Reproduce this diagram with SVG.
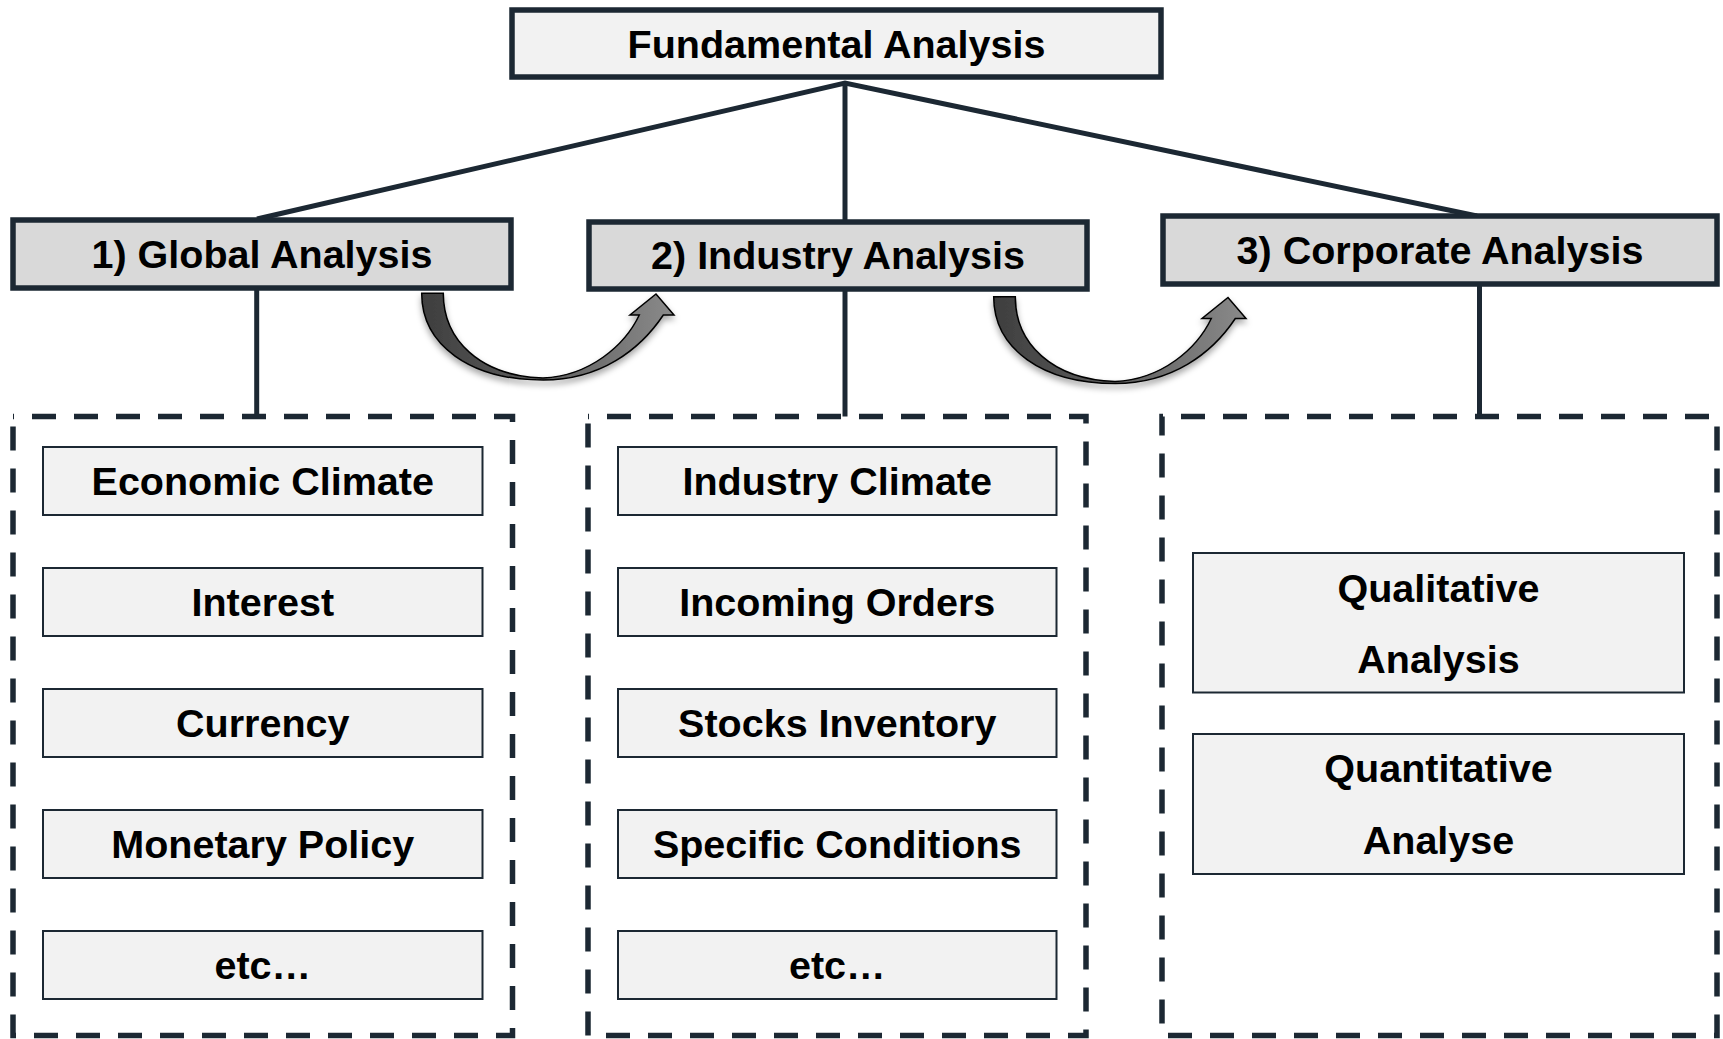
<svg xmlns="http://www.w3.org/2000/svg" width="1723" height="1039" viewBox="0 0 1723 1039">
  <style>
    .txt { font-family: "Liberation Sans", Arial, sans-serif; font-weight: bold; font-size: 39.5px; fill: #000; text-anchor: middle; }
    .head { fill: #f2f2f2; stroke: #1c2833; stroke-width: 5.5; }
    .lvl2 { fill: #d9d9d9; stroke: #1c2833; stroke-width: 5.5; }
    .item { fill: #f2f2f2; stroke: #1c2833; stroke-width: 2; }
    .group { fill: none; stroke: #1c2833; stroke-width: 5.5; stroke-dasharray: 24 18; stroke-dashoffset: 23; }
    .conn { fill: none; stroke: #1c2833; stroke-width: 5; stroke-linejoin: miter; }
    .curve { fill: url(#arrowGrad); stroke: #000; stroke-width: 1.5; stroke-linejoin: miter; filter: url(#shadow); }
  </style>
  <defs>
    <linearGradient id="arrowGrad" x1="0" y1="0" x2="1" y2="0">
      <stop offset="0" stop-color="#3e3e3e"/>
      <stop offset="0.45" stop-color="#5c5c5c"/>
      <stop offset="1" stop-color="#8a8a8a"/>
    </linearGradient>
    <filter id="shadow" x="-20%" y="-20%" width="140%" height="160%">
      <feDropShadow dx="0" dy="4" stdDeviation="3" flood-color="#000" flood-opacity="0.35"/>
    </filter>
    <path id="curvedArrow" d="M421.7,293.3 C421.7,345 470,380 543.3,380 C600,380 640,350 663.3,315 L674,315 L656,294 L630,315 L639.3,315 C625,345 590,376 543,378 C480,376 443.3,340 443.3,293.3 Z"/>
  </defs>

  <rect width="1723" height="1039" fill="#ffffff"/>

  <g id="connectors">
    <path class="conn" d="M257,219 L845,83 L1477,216"/>
    <path class="conn" d="M845,83 L845,222"/>
    <path class="conn" d="M256.7,288 L256.7,416.5"/>
    <path class="conn" d="M845,289 L845,416.5"/>
    <path class="conn" d="M1479.5,284 L1479.5,416.5"/>
    <use href="#curvedArrow" class="curve"/>
    <use href="#curvedArrow" class="curve" transform="translate(572,3.5)"/>
  </g>

  <g id="fundamental-analysis">
    <rect class="head" x="512" y="10" width="649" height="67"/>
    <text class="txt" x="836.5" y="57.5">Fundamental Analysis</text>
  </g>

  <g id="global-analysis">
    <rect class="lvl2" x="13" y="220" width="498" height="68"/>
    <text class="txt" x="262" y="267.5">1) Global Analysis</text>
  </g>

  <g id="industry-analysis">
    <rect class="lvl2" x="589" y="222" width="498" height="67"/>
    <text class="txt" x="838" y="269">2) Industry Analysis</text>
  </g>

  <g id="corporate-analysis">
    <rect class="lvl2" x="1163" y="216" width="554" height="68"/>
    <text class="txt" x="1440" y="264">3) Corporate Analysis</text>
  </g>

  <g id="global-group">
    <rect class="group" x="13" y="416.5" width="499.5" height="619"/>
  </g>
  <g id="industry-group">
    <rect class="group" x="588" y="416.5" width="498" height="619"/>
  </g>
  <g id="corporate-group">
    <rect class="group" x="1162" y="416.5" width="555" height="619"/>
  </g>

  <g id="economic-climate">
    <rect class="item" x="43" y="447" width="439.5" height="68"/>
    <text class="txt" x="262.75" y="495.3">Economic Climate</text>
  </g>
  <g id="interest">
    <rect class="item" x="43" y="568" width="439.5" height="68"/>
    <text class="txt" x="262.75" y="616.3">Interest</text>
  </g>
  <g id="currency">
    <rect class="item" x="43" y="689" width="439.5" height="68"/>
    <text class="txt" x="262.75" y="737.3">Currency</text>
  </g>
  <g id="monetary-policy">
    <rect class="item" x="43" y="810" width="439.5" height="68"/>
    <text class="txt" x="262.75" y="858.3">Monetary Policy</text>
  </g>
  <g id="global-etc">
    <rect class="item" x="43" y="931" width="439.5" height="68"/>
    <text class="txt" x="262.75" y="979.3">etc…</text>
  </g>

  <g id="industry-climate">
    <rect class="item" x="618" y="447" width="438.5" height="68"/>
    <text class="txt" x="837.25" y="495.3">Industry Climate</text>
  </g>
  <g id="incoming-orders">
    <rect class="item" x="618" y="568" width="438.5" height="68"/>
    <text class="txt" x="837.25" y="616.3">Incoming Orders</text>
  </g>
  <g id="stocks-inventory">
    <rect class="item" x="618" y="689" width="438.5" height="68"/>
    <text class="txt" x="837.25" y="737.3">Stocks Inventory</text>
  </g>
  <g id="specific-conditions">
    <rect class="item" x="618" y="810" width="438.5" height="68"/>
    <text class="txt" x="837.25" y="858.3">Specific Conditions</text>
  </g>
  <g id="industry-etc">
    <rect class="item" x="618" y="931" width="438.5" height="68"/>
    <text class="txt" x="837.25" y="979.3">etc…</text>
  </g>

  <g id="qualitative-analysis">
    <rect class="item" x="1193" y="553" width="491" height="139.5"/>
    <text class="txt" x="1438.5" y="602">Qualitative</text>
    <text class="txt" x="1438.5" y="673">Analysis</text>
  </g>
  <g id="quantitative-analyse">
    <rect class="item" x="1193" y="734" width="491" height="140"/>
    <text class="txt" x="1438.5" y="782">Quantitative</text>
    <text class="txt" x="1438.5" y="853.5">Analyse</text>
  </g>
</svg>
